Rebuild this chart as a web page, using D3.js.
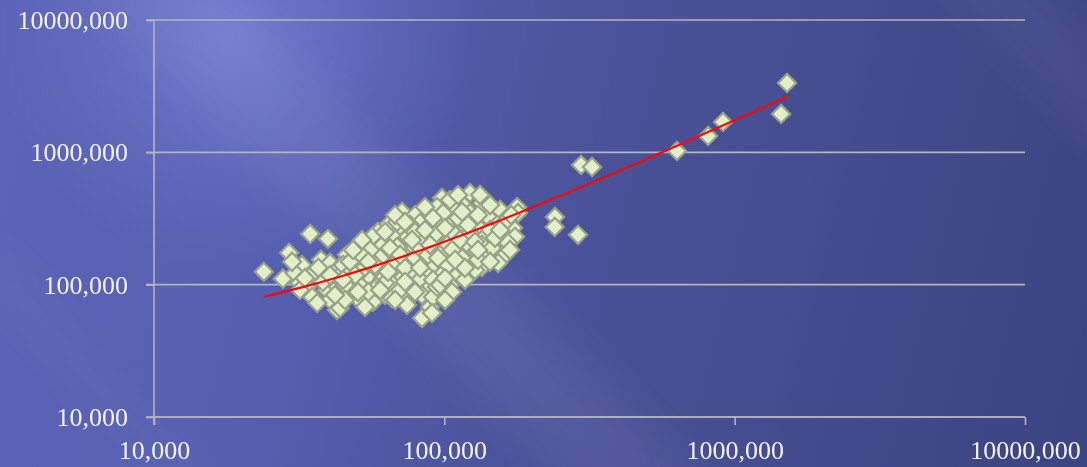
<!DOCTYPE html>
<html>
<head>
<meta charset="utf-8">
<script src="https://cdn.jsdelivr.net/npm/d3@7"></script>
<style>
  html, body { margin: 0; padding: 0; background: #4a519a; }
  svg { display: block; }
</style>
</head>
<body>
<svg id="chart" width="1087" height="467"></svg>
<script>
// Observations: x value and y value for each point
const xValues = [
  23.9, 29.2, 34.5, 39.7, 27.8, 32.3, 30.6, 37.6, 40.4, 43.7, 35.3, 33.6, 35.1, 39.4, 40.4, 42.7, 43.0, 43.0, 38.2, 31.8, 36.5, 31.8,
  71.5, 79.3, 82.5, 89.3, 87.9, 69.3, 64.0, 59.1, 56.4, 66.6, 75.0, 82.5, 49.3, 53.3, 61.5, 68.8, 78.0, 87.2, 46.2, 56.4, 63.5, 74.4,
  83.8, 90.7, 44.8, 50.4, 58.6, 66.6, 77.4, 87.9, 46.6, 54.2, 61.5, 71.5, 82.5, 51.2, 58.6, 66.6, 77.4, 89.3, 46.2, 62.5, 72.0, 83.8,
  56.8, 74.4, 66.0, 43.7, 50.1, 83.8, 89.3, 91.4,
  122.6, 98.2, 134.8, 155.6, 178.0, 116.0, 107.2, 94.4, 99.0, 122.6, 141.4, 165.7, 179.4, 92.9, 107.2, 115.1, 130.6, 151.9, 172.4,
  96.6, 108.9, 122.6, 138.1, 158.1, 175.2, 91.4, 102.2, 119.7, 134.8, 153.1, 165.7, 96.6, 111.5, 125.6, 143.7, 161.9, 92.9, 106.3,
  120.7, 134.8, 153.1, 99.0, 113.3, 127.6, 91.4, 108.9, 104.6, 94.4, 90.7,
  45.5, 47.3, 52.1, 54.7, 60.1, 65.0, 68.2, 73.2, 79.3, 82.5, 76.2, 68.8, 92.9, 85.8, 79.3, 70.4, 62.5, 55.5, 52.1, 49.3,
  100.6, 113.3, 127.6, 143.7, 130.6, 111.5, 103.0, 115.1, 130.6, 146.0, 96.6, 106.3, 100.6, 117.8, 40.4, 36.8, 29.9, 33.1, 45.5, 53.3,
  48.5, 52.1, 62.5, 67.7, 73.2, 77.4, 85.8, 91.4, 104.6, 111.5, 132.7, 143.7, 161.9, 149.5, 120.7, 106.3, 87.9, 70.4, 57.7, 64.0,
  82.5, 95.1, 117.8, 143.7, 168.4, 100.6, 79.3, 67.7, 50.4, 42.0, 130.6, 115.1, 85.8, 54.7, 44.8, 60.1, 73.2, 89.3, 108.9, 155.6, 170.0,
  240.6, 240.0, 288.8, 295.8, 322.7, 633, 810, 912, 1445, 1515
];
const yValues = [
  125, 174, 242, 222, 111, 141, 122, 154, 146, 136, 122, 96.1, 80.8, 91.2, 76.6, 64.4, 96.1, 114, 105, 103, 72.8, 91.2,
  355, 336, 293, 355, 268, 268, 283, 250, 230, 230, 230, 226, 189, 200, 200, 193, 183, 189, 168, 162, 168, 159,
  149, 162, 141, 141, 136, 134, 129, 125, 118, 114, 112, 112, 109, 99.5, 96.1, 99.5, 94.4, 96.1, 83.6, 83.6, 83.6, 83.6,
  74.0, 70.3, 79.3, 66.7, 79.3, 56.0, 67.9, 80.8,
  493, 452, 414, 367, 386, 400, 380, 386, 348, 348, 325, 325, 348, 293, 298, 293, 273, 283, 268,
  246, 238, 246, 230, 238, 230, 207, 200, 193, 200, 193, 207, 168, 174, 168, 168, 168, 141, 146,
  149, 136, 146, 122, 125, 129, 109, 114, 99.5, 96.1, 61.1,
  99.5, 149, 129, 88.1, 159, 189, 149, 134, 159, 189, 283, 298, 238, 218, 250, 91.2, 103, 183, 165, 118,
  268, 218, 211, 259, 336, 319, 141, 159, 154, 189, 99.5, 88.1, 76.6, 109, 118, 134, 149, 112, 76.6, 67.9,
  183, 218, 250, 336, 298, 218, 259, 319, 437, 476, 476, 400, 298, 226, 283, 183, 168, 168, 141, 125,
  134, 159, 134, 149, 183, 112, 88.1, 76.6, 88.1, 83.6, 183, 355, 386, 149, 109, 91.2, 105, 200, 154, 259, 336,
  325, 273, 238, 803, 775, 1025, 1330, 1697, 1951, 3346
];

// Linear trend line y = trendSlope * x + trendIntercept, over the observed x range
const trendSlope = 1.707;
const trendIntercept = 40.3;

// Axis ticks (both axes are log10)
const xTicks = [10, 100, 1000, 10000];
const yTicks = [10, 100, 1000, 10000];

const points = xValues.map((x, i) => ({ x, y: yValues[i] }));

const W = 1087, H = 467;
const margin = { left: 154, right: 62, top: 20, bottom: 50 };

const svg = d3.select("#chart");
const defs = svg.append("defs");

// Background: blue-violet gradient, darker to the right, with a soft highlight and diagonal sheen
const bg = defs.append("linearGradient").attr("id", "bgGrad")
  .attr("gradientUnits", "userSpaceOnUse")
  .attr("x1", 0).attr("y1", 100).attr("x2", W).attr("y2", 367);
[["0", "#5b64b7"], ["0.3", "#555eae"], ["0.55", "#4a5198"], ["0.8", "#434a8b"], ["1", "#3d4482"]]
  .forEach(([o, c]) => bg.append("stop").attr("offset", o).attr("stop-color", c));

const glow = defs.append("radialGradient").attr("id", "glow")
  .attr("gradientUnits", "userSpaceOnUse")
  .attr("cx", 235).attr("cy", 30).attr("r", 240);
glow.append("stop").attr("offset", "0").attr("stop-color", "#8a93ee").attr("stop-opacity", 0.48);
glow.append("stop").attr("offset", "0.6").attr("stop-color", "#8a93ee").attr("stop-opacity", 0.15);
glow.append("stop").attr("offset", "1").attr("stop-color", "#8a93ee").attr("stop-opacity", 0);

defs.append("filter").attr("id", "soft")
  .attr("x", "-50%").attr("y", "-50%").attr("width", "200%").attr("height", "200%")
  .append("feGaussianBlur").attr("stdDeviation", 22);

svg.append("rect").attr("width", W).attr("height", H).attr("fill", "url(#bgGrad)");
svg.append("rect").attr("width", W).attr("height", H).attr("fill", "url(#glow)");

const sheen = svg.append("g").attr("filter", "url(#soft)");
sheen.append("polygon")
  .attr("points", "60,-40 200,-40 720,500 580,500")
  .attr("fill", "#ffffff").attr("opacity", 0.06);
sheen.append("polygon")
  .attr("points", "-40,250 0,250 220,500 180,500")
  .attr("fill", "#ffffff").attr("opacity", 0.05);
sheen.append("polygon")
  .attr("points", "900,-60 1000,-60 1200,150 1100,150")
  .attr("fill", "#ffffff").attr("opacity", 0.04);

// Scales
const x = d3.scaleLog().domain([10, 10000]).range([margin.left, W - margin.right]);
const y = d3.scaleLog().domain([10, 10000]).range([H - margin.bottom, margin.top]);

const locale = d3.formatLocale({ decimal: ",", thousands: "", grouping: [3], currency: ["", ""] });
const fmt = locale.format(".3f");

const gridColor = "#b4b4bf";
const labelFont = "'Liberation Serif', 'Times New Roman', serif";

// Horizontal gridlines
svg.append("g")
  .selectAll("line")
  .data(yTicks)
  .join("line")
  .attr("x1", x.range()[0] - 8).attr("x2", x.range()[1])
  .attr("y1", d => y(d)).attr("y2", d => y(d))
  .attr("stroke", gridColor).attr("stroke-width", 1.6);

// Y axis
const yAxis = svg.append("g")
  .attr("transform", `translate(${x.range()[0]},0)`)
  .call(d3.axisLeft(y).tickValues(yTicks).tickFormat(fmt).tickSize(8).tickPadding(18));
// X axis
const xAxis = svg.append("g")
  .attr("transform", `translate(0,${y.range()[0]})`)
  .call(d3.axisBottom(x).tickValues(xTicks).tickFormat(fmt).tickSize(8).tickPadding(16));

[yAxis, xAxis].forEach(g => {
  g.select(".domain").attr("stroke", gridColor).attr("stroke-width", 1.6);
  g.selectAll(".tick line").attr("stroke", gridColor).attr("stroke-width", 1.6);
  g.selectAll(".tick text")
    .attr("fill", "#f2f2f7")
    .style("font-family", labelFont)
    .style("font-size", "26px");
});
yAxis.select(".domain").attr("d", `M0,${y.range()[1]}V${y.range()[0] + 8}`);
xAxis.select(".domain").attr("d", `M${x.range()[0]},0H${x.range()[1]}`);
yAxis.selectAll(".tick text").attr("dy", "0.33em");

// Scatter markers: diamonds
const diamond = d3.symbol().type(d3.symbolSquare).size(165);
svg.append("g")
  .selectAll("path")
  .data(points)
  .join("path")
  .attr("d", diamond)
  .attr("transform", d => `translate(${x(d.x)},${y(d.y)}) rotate(45)`)
  .attr("fill", "#e2efca")
  .attr("stroke", "#98a388")
  .attr("stroke-width", 2.2);

// Trend line, sampled evenly in log-x across the data range
const [xMin, xMax] = d3.extent(xValues);
const trendXs = d3.range(0, 61).map(i => Math.pow(10, Math.log10(xMin) + (Math.log10(xMax) - Math.log10(xMin)) * i / 60));
svg.append("path")
  .datum(trendXs)
  .attr("d", d3.line().x(d => x(d)).y(d => y(trendSlope * d + trendIntercept)))
  .attr("fill", "none")
  .attr("stroke", "#f50a0a")
  .attr("stroke-width", 2.2);
</script>
</body>
</html>
